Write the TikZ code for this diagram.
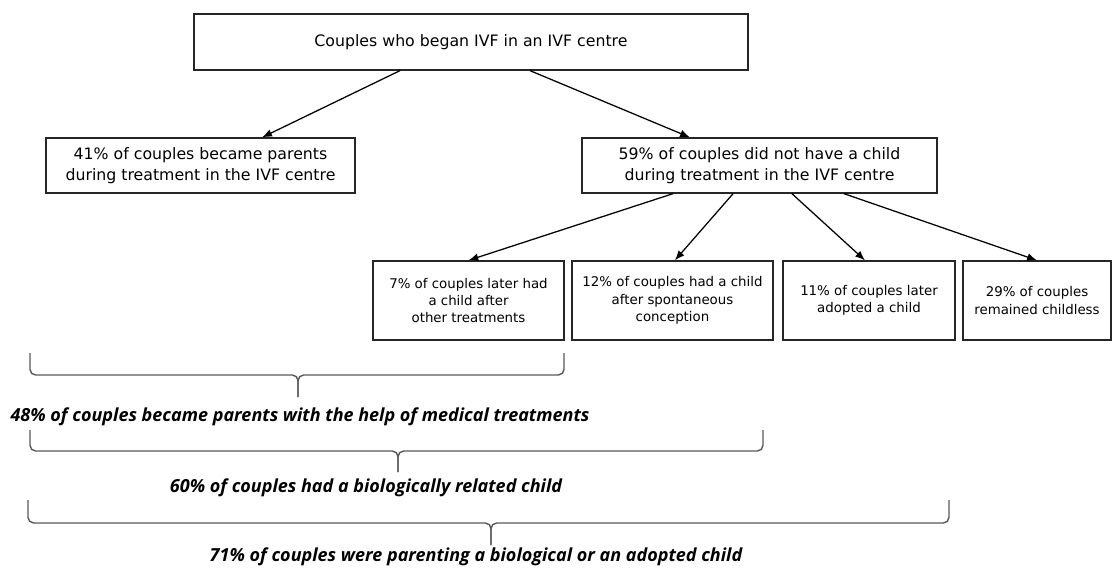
\documentclass[tikz,border=0pt]{standalone}
\usepackage{fontspec}
\setmainfont{DejaVu Sans}
\newfontfamily\notefont{Open Sans}
\usepackage{tikz}
\usetikzlibrary{positioning,arrows.meta}
\newcommand{\groupbrace}[6]{%
  \draw[bracket] (#1,#4) -- (#1,#5) -- (#3,#5) -- (#3,#6);
  \draw[bracket] (#2,#4) -- (#2,#5) -- (#3,#5) -- (#3,#6);}
\tikzstyle{stage} = [draw=black!85, line width=0.9pt, align=center, inner sep=0pt]
\tikzstyle{upper} = [stage, minimum height=1.375cm, font=\fontsize{11.2}{15}\selectfont]
\tikzstyle{lower} = [stage, minimum height=1.975cm, font=\fontsize{9.5}{12.3}\selectfont]
\tikzstyle{result} = [font=\notefont\bfseries\itshape\fontsize{12.8}{15}\selectfont]
\tikzstyle{arr} = [-{Latex[length=7pt,width=5.5pt]}, line width=0.9pt]
\tikzstyle{bracket} = [draw=black!65, line width=1pt, rounded corners=4pt]

\begin{document}
\begin{tikzpicture}[x=0.025cm, y=-0.025cm]
			\useasboundingbox (0,0) rectangle (1113,568);
			\node[upper, minimum width=13.85cm, minimum height=1.4cm] (ivf) at (471,42) {Couples who began IVF in an IVF centre};
			\node[upper, minimum width=7.725cm] (parents) at (200.5,165.5) {41\% of couples became parents\\during treatment in the IVF centre};
			\node[upper, minimum width=8.875cm] (nochild) at (759.5,165.5) {59\% of couples did not have a child\\during treatment in the IVF centre};
			\node[lower, minimum width=4.775cm] (other) at (468.5,300.5) {7\% of couples later had\\a child after\\other treatments};
			\node[lower, minimum width=5.025cm] (spont) at (672.5,300.5) {12\% of couples had a child\\after spontaneous\\conception};
			\node[lower, minimum width=4.3cm] (adopt) at (869,300.5) {11\% of couples later\\adopted a child};
			\node[lower, minimum width=3.7cm] (childless) at (1037,300.5) {29\% of couples\\remained childless};
			\draw[arr] ([xshift=-1.775cm]ivf.south) -- ([xshift=1.54cm]parents.north);
			\draw[arr] ([xshift=1.475cm]ivf.south) -- ([xshift=-1.74cm]nochild.north);
			\draw[arr] ([xshift=-2.16cm]nochild.south) -- (other.north);
			\draw[arr] ([xshift=-0.66cm]nochild.south) -- ([xshift=0.06cm]spont.north);
			\draw[arr] ([xshift=0.81cm]nochild.south) -- ([xshift=-0.1cm]adopt.north);
			\draw[arr] ([xshift=2.11cm]nochild.south) -- (childless.north);
			\groupbrace{30}{564}{298}{353}{375}{397}
			\groupbrace{30}{763}{398}{430}{451}{472}
			\groupbrace{28}{949}{491}{500}{523}{545}
			\node[result] (medical) at (300,417) {48\% of couples became parents with the help of medical treatments};
			\node[result] (biological) at (366,488) {60\% of couples had a biologically related child};
			\node[result] (parenting) at (476,557) {71\% of couples were parenting a biological or an adopted child};
		\end{tikzpicture}
\end{document}
